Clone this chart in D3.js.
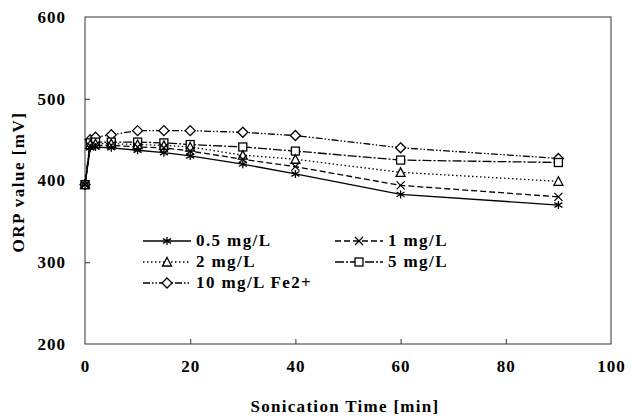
<!DOCTYPE html>
<html><head><meta charset="utf-8">
<script src="https://cdn.jsdelivr.net/npm/d3@7"></script>
<style>body{margin:0;background:#fff}svg{display:block}text{font-family:"Liberation Serif","Times New Roman",serif;font-weight:bold;fill:#000}</style>
</head><body>
<svg id="c" width="632" height="417"></svg>
<script>
const times = [0,1,2,5,10,15,20,30,40,60,90];
const s05 = [395,440,441,440,437,434,430,420,408,383,370];
const s1  = [395,442,443,443,441,440,436,426,417,394,380];
const s2  = [395,444,445,445,444,443,441,431,426,410,399];
const s5  = [395,446,447,447,447,446,444,441,436,425,422];
const s10 = [395,450,453,456,461,461,461,459,455,440,427];
const seriesNames = ["0.5 mg/L","1 mg/L","2 mg/L","5 mg/L","10 mg/L Fe2+"];
const xTicks = [0,20,40,60,80,100];
const yTicks = [200,300,400,500,600];

const series = [
  {name:seriesNames[0], vals:s05, dash:null, marker:"star"},
  {name:seriesNames[1], vals:s1, dash:"6,3", marker:"x"},
  {name:seriesNames[2], vals:s2, dash:"1.5,2.5", marker:"tri"},
  {name:seriesNames[3], vals:s5, dash:"9,2,2,2", marker:"sq"},
  {name:seriesNames[4], vals:s10, dash:"7,2,1.5,2,1.5,2", marker:"dia"}
];

const svg = d3.select("#c");
const L=85, R=611, T=17, B=344;
const x = d3.scaleLinear().domain([0,100]).range([L,R]);
const y = d3.scaleLinear().domain([200,600]).range([B,T]);

svg.append("rect").attr("x",L).attr("y",T).attr("width",R-L).attr("height",B-T)
  .attr("fill","none").attr("stroke","#333").attr("stroke-width",1);

const xa = svg.append("g").attr("transform",`translate(0,${B})`)
  .call(d3.axisBottom(x).tickValues(xTicks).tickSize(-5).tickPadding(16).tickFormat(d3.format("d")));
const ya = svg.append("g").attr("transform",`translate(${L},0)`)
  .call(d3.axisLeft(y).tickValues(yTicks).tickSize(-5).tickPadding(19).tickFormat(d3.format("d")));
[xa,ya].forEach(g=>{g.select(".domain").remove();
  g.selectAll("line").attr("stroke","#333");
  g.selectAll("text").style("font-size","17px").style("letter-spacing","1px")
   .style("font-family",'"Liberation Serif",serif').style("font-weight","bold");});
xa.selectAll(".tick").filter(d=>d===0||d===100).select("line").remove();
ya.selectAll(".tick").filter(d=>d===200||d===600).select("line").remove();

svg.append("text").attr("x",345).attr("y",412).attr("text-anchor","middle")
  .style("font-size","17px").style("letter-spacing","1.3px").text("Sonication Time [min]");
svg.append("text").attr("transform","translate(24,182) rotate(-90)").attr("text-anchor","middle")
  .style("font-size","17px").style("letter-spacing","1.5px").text("ORP value [mV]");

function drawMarker(g, type, cx, cy){
  const s=4;
  if(type==="star"){
    const p=d3.path();
    p.moveTo(cx,cy-s);p.lineTo(cx,cy+s);
    p.moveTo(cx-s,cy-s*0.6);p.lineTo(cx+s,cy+s*0.6);
    p.moveTo(cx-s,cy+s*0.6);p.lineTo(cx+s,cy-s*0.6);
    g.append("path").attr("d",p.toString()).attr("stroke","#000").attr("stroke-width",1.3).attr("fill","none");
  } else if(type==="x"){
    const p=d3.path();
    p.moveTo(cx-s,cy-s);p.lineTo(cx+s,cy+s);p.moveTo(cx-s,cy+s);p.lineTo(cx+s,cy-s);
    g.append("path").attr("d",p.toString()).attr("stroke","#000").attr("stroke-width",1.3).attr("fill","none");
  } else if(type==="tri"){
    g.append("path").attr("d",`M${cx},${cy-s-0.5}L${cx+s+0.5},${cy+s}L${cx-s-0.5},${cy+s}Z`)
      .attr("stroke","#000").attr("stroke-width",1.3).attr("fill","#fff");
  } else if(type==="sq"){
    g.append("rect").attr("x",cx-s).attr("y",cy-s).attr("width",2*s).attr("height",2*s)
      .attr("stroke","#000").attr("stroke-width",1.3).attr("fill","#fff");
  } else if(type==="dia"){
    g.append("path").attr("d",`M${cx},${cy-s-1}L${cx+s+1},${cy}L${cx},${cy+s+1}L${cx-s-1},${cy}Z`)
      .attr("stroke","#000").attr("stroke-width",1.3).attr("fill","#fff");
  }
}

const line = d3.line().x(d=>x(d[0])).y(d=>y(d[1]));
series.forEach(s=>{
  const pts = times.map((t,i)=>[t,s.vals[i]]);
  svg.append("path").attr("d",line(pts)).attr("fill","none").attr("stroke","#000")
    .attr("stroke-width",1.3).attr("stroke-dasharray",s.dash);
});
series.slice().reverse().forEach(s=>{
  const g=svg.append("g");
  times.forEach((t,i)=>drawMarker(g,s.marker,x(t),y(s.vals[i])));
});

const legPos = [[143,241],[335,241],[143,262],[335,262],[143,283]];
series.forEach((s,i)=>{
  const [lx,ly]=legPos[i];
  const g=svg.append("g");
  g.append("line").attr("x1",lx).attr("x2",lx+48).attr("y1",ly).attr("y2",ly)
    .attr("stroke","#000").attr("stroke-width",1.3).attr("stroke-dasharray",s.dash);
  drawMarker(g,s.marker,lx+24,ly);
  g.append("text").attr("x",lx+53).attr("y",ly+5).style("font-size","17px").style("letter-spacing","1.4px").text(s.name);
});
</script>
</body></html>
